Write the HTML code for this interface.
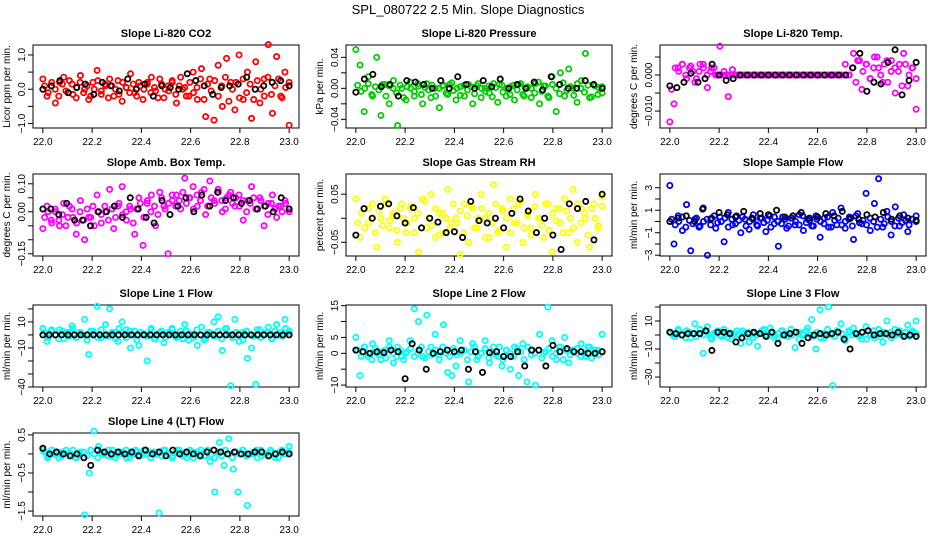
<!DOCTYPE html>
<html><head><meta charset="utf-8">
<style>
html,body{margin:0;padding:0;background:#fff;}
svg{display:block;font-family:"Liberation Sans",sans-serif;}
</style></head>
<body>
<svg id="chart" width="936" height="540" viewBox="0 0 936 540" xmlns="http://www.w3.org/2000/svg">
<text x="468" y="14" text-anchor="middle" font-size="13">SPL_080722  2.5 Min. Slope Diagnostics</text>
</svg>
<script>
const xTicks = [22.0, 22.2, 22.4, 22.6, 22.8, 23.0];
const xTickLabels = ["22.0","22.2","22.4","22.6","22.8","23.0"];
const titles = ["Slope Li-820 CO2","Slope Li-820 Pressure","Slope Li-820 Temp.","Slope Amb. Box Temp.","Slope Gas Stream RH","Slope Sample Flow","Slope Line 1 Flow","Slope Line 2 Flow","Slope Line 3 Flow","Slope Line 4 (LT) Flow"];
const yTitles = ["Licor ppm per min.","kPa per min.","degrees C per min.","degrees C per min.","percent per min.","ml/min per min.","ml/min per min.","ml/min per min.","ml/min per min.","ml/min per min."];
const colors = ["#ff0000","#00cc00","#ff00ff","#ff00ff","#ffff00","#0000ff","#00ffff","#00ffff","#00ffff","#00ffff"];
const yDomains = [[-1.13,1.29],[-0.0512,0.0559],[-0.0147,0.00833],[-0.158,0.135],[-0.0785,0.092],[-3.07,4.22],[-40,23],[-10.6,15.2],[-37.1,21.4],[-1.63,0.55]];
const yTicks = [[-1,-0.5,0,0.5,1],[-0.04,-0.02,0,0.02,0.04],[-0.01,-0.005,0,0.005],[-0.15,-0.1,-0.05,0,0.05,0.1],[-0.05,0,0.05],[-3,-2,-1,0,1,2,3],[-40,-30,-20,-10,0,10,20],[-10,-5,0,5,10,15],[-30,-20,-10,0,10,20],[-1.5,-1,-0.5,0,0.5]];
const yTickLabels = [["−1.0","","0.0","","1.0"],["−0.04","","0.00","","0.04"],["−0.010","","0.000",""],["−0.15","","","0.00","","0.10"],["−0.05","","0.05"],["−3","","−1","","1","","3"],["−40","","","−10","","10",""],["−10","","0","5","","15"],["−30","","−10","","10",""],["−1.5","","−0.5","","0.5"]];

const s1 = [0.3,-0.2,0.1,-0.4,0.2,0.35,-0.1,0.15,-0.25,0.4,0.0,-0.3,0.2,0.55,-0.15,0.1,0.3,-0.2,0.25,-0.35,0.05,0.45,-0.1,0.2,-0.3,0.15,0.35,-0.05,0.3,-0.25,0.1,0.2,-0.4,0.35,0.05,-0.2,0.5,-0.3,0.6,-0.8,0.3,-0.9,0.7,-0.5,0.9,0.2,-0.6,1.0,-0.3,0.5,-0.85,0.8,-0.4,0.3,1.3,-0.7,0.95,-0.2,0.5,-1.05];
const b1 = [0.1,-0.1,0.2,0.0,-0.2,0.15,-0.05,0.25,-0.15,0.05,0.2,-0.1,0.1,-0.2,0.0,0.25,-0.05,0.15,-0.25,0.1,0.0,-0.15,0.2,0.05,-0.1,0.15,-0.2,0.1,0.0,0.2,-0.1,0.05,-0.25,0.15,0.0,-0.05,0.25,-0.15,0.1,0.0,-0.2,0.2,-0.1,0.05,0.3,-0.3,0.15,-0.05,0.25,-0.2,0.1,0.35,-0.35,0.0,0.2,-0.25,0.3,-0.1,0.15,-0.3,0.25,0.0,-0.2,0.35,-0.15,0.1,0.3,-0.25,0.05,0.2];
const k1 = [0.0,0.1,0.25,-0.1,0.05,0.15,-0.15,0.2,0.1,-0.05,0.3,0.0,0.15,-0.2,0.1,0.05,0.0,0.45,0.25,0.1,-0.15,0.05,0.1,0.15,0.35,0.0,0.1,0.2,0.25,0.1];
const s2 = [0.05,0.03,-0.03,0.015,-0.01,0.04,-0.035,0.005,-0.02,0.01,-0.048,0.0,-0.015,0.008,-0.01,0.003,-0.02,0.006,-0.012,0.0,-0.025,0.004,-0.008,0.007,-0.015,0.002,-0.01,0.005,-0.02,0.003,-0.012,0.0,-0.006,0.006,-0.018,0.004,-0.01,0.002,-0.015,0.005,-0.008,0.0,-0.012,0.006,-0.02,0.003,-0.01,0.015,-0.03,0.02,-0.01,0.025,0.0,-0.018,0.01,0.045,-0.012,0.005,-0.008,0.002];
const b2 = [0.004,-0.004,0.0,0.006,-0.008,0.002,-0.002,0.005,-0.01,0.003,0.0,-0.006,0.004,-0.012,0.002,0.0,-0.004,0.006,-0.008,0.001,-0.002,0.004,-0.01,0.0,0.003,-0.006,0.005,-0.003,0.0,-0.009,0.004,-0.002,0.002,-0.007,0.006,0.0,-0.004,0.003,-0.011,0.001,0.005,-0.005,0.0,-0.008,0.004,-0.002,0.006,-0.01,0.002,0.0,-0.006,0.008,-0.004,0.003,-0.012,0.005,0.0,-0.007,0.007,-0.003,0.002,-0.009,0.006,0.0,-0.005,0.004,-0.011,0.003,0.001,-0.006];
const k2 = [-0.005,0.012,0.018,0.002,0.005,-0.01,0.01,0.008,0.005,0.0,0.01,0.0,0.015,0.005,0.0,0.01,0.002,0.012,0.0,0.005,0.0,0.008,-0.002,0.015,0.005,0.0,0.0,0.01,0.005,0.0];
const s3 = [-0.013,-0.008,0.002,0.003,-0.001,0.0025,-0.002,0.001,0.003,-0.0035,0.002,0.0,0.008,0.001,-0.006,0.0015,0.0,0.0,0.0,0.0,0.0,0.0,0.0,0.0,0.0,0.0,0.0,0.0,0.0,0.0,0.0,0.0,0.0,0.0,0.0,0.0,0.0,0.0,0.0,0.0,0.0,0.0,0.0,0.0,0.006,0.004,-0.004,0.003,-0.001,0.005,0.002,-0.002,0.004,0.001,-0.005,0.003,0.006,-0.003,0.002,-0.0095];
const b3 = [-0.004,0.002,0.001,0.003,0.0,0.002,0.001,-0.001,0.003,0.002,0.0,0.001,0.002,0.0,0.0,0.0,0.0,0.0,0.0,0.0,0.0,0.0,0.0,0.0,0.0,0.0,0.0,0.0,0.0,0.0,0.0,0.0,0.0,0.0,0.0,0.0,0.0,0.0,0.0,0.0,0.0,0.0,0.0,0.0,0.0,0.0,0.0,0.0,0.0,0.003,0.0,0.002,-0.002,0.004,0.001,0.003,-0.001,0.002,0.005,0.0,0.003,-0.002,0.004,0.002,0.001,-0.003,0.003,0.0,0.002,-0.001];
const k3 = [-0.003,-0.0035,-0.002,0.0005,-0.002,-0.001,0.003,0.0,-0.0015,-0.001,0.0,0.0,0.0,0.0,0.0,0.0,0.0,0.0,0.0,0.0,0.0,0.0,0.0,0.0,0.0,0.0,0.002,0.006,-0.0045,-0.002,-0.0025,0.0035,0.007,-0.0055,-0.0015,0.0035];
const s4 = [-0.06,0.02,-0.03,0.0,-0.05,0.03,-0.02,0.01,-0.08,0.04,-0.1,-0.02,0.02,0.06,-0.04,0.0,0.08,-0.06,0.02,0.09,-0.03,0.01,-0.08,0.05,-0.12,0.03,0.06,-0.05,0.07,0.02,-0.15,0.04,0.06,0.01,0.12,0.05,0.09,0.02,0.07,-0.01,0.11,0.04,0.08,0.0,0.05,0.07,0.02,0.06,-0.03,0.04,0.09,0.01,0.05,-0.05,0.03,0.06,-0.02,0.02,0.04,0.0];
const b4 = [-0.02,0.0,-0.04,0.01,-0.03,-0.01,-0.05,0.02,-0.02,-0.04,0.0,-0.03,0.01,-0.02,-0.05,0.0,-0.01,0.02,-0.03,0.01,-0.02,0.03,-0.01,0.0,0.02,-0.04,0.01,0.03,-0.02,0.04,0.0,0.02,-0.01,0.05,0.01,0.03,0.06,0.02,0.04,0.07,0.03,0.05,0.01,0.06,0.04,0.08,0.02,0.05,0.03,0.07,0.04,0.01,0.06,0.03,0.05,0.02,0.04,0.0,0.03,0.05,0.01,0.04,0.02,-0.01,0.03,0.01,0.02,0.0,0.03,0.01];
const k4 = [0.01,0.01,-0.01,0.03,-0.03,-0.03,-0.05,0.0,0.0,0.02,-0.02,0.05,0.01,-0.02,-0.04,0.04,-0.01,0.02,0.05,0.0,0.06,0.02,0.07,0.04,0.05,0.03,0.04,0.01,0.02,0.0,0.05,0.01];
const s5 = [0.04,-0.04,0.02,-0.01,0.03,-0.06,0.0,0.04,-0.02,0.01,-0.05,0.03,-0.03,0.02,0.0,-0.07,0.04,-0.02,0.05,-0.04,0.01,-0.03,0.06,-0.01,0.0,-0.075,0.03,-0.05,0.02,-0.02,0.05,0.0,-0.04,0.07,-0.03,0.02,-0.06,0.04,-0.01,0.03,-0.05,0.01,-0.02,0.05,0.0,-0.04,0.03,-0.07,0.02,-0.01,0.04,-0.03,0.06,-0.05,0.02,0.0,-0.06,0.03,-0.02,0.045];
const b5 = [-0.01,0.01,-0.02,0.02,0.0,-0.03,0.015,-0.015,0.03,-0.005,0.005,-0.025,0.02,0.0,-0.01,0.025,-0.03,0.01,-0.02,0.035,0.0,-0.015,0.02,-0.035,0.01,0.0,-0.02,0.03,-0.01,0.015,-0.03,0.005,0.025,-0.02,0.0,0.02,-0.04,0.01,-0.01,0.03,-0.025,0.015,0.0,-0.03,0.02,-0.01,0.035,-0.02,0.005,-0.035,0.025,0.0,-0.015,0.03,-0.025,0.01,-0.005,0.02,-0.03,0.015,0.0,-0.02,0.03,-0.01,0.01,-0.035,0.02,0.0,-0.015,0.025];
const k5 = [-0.035,0.02,0.0,0.025,0.03,0.005,-0.01,0.022,-0.02,0.0,-0.008,-0.03,-0.028,-0.04,0.035,-0.005,-0.01,0.0,-0.02,0.01,0.04,0.015,-0.03,0.0,-0.035,-0.065,0.03,0.02,0.035,-0.045,0.05];
const s6 = [3.2,-2.0,0.5,-0.8,1.5,-2.6,0.2,-0.5,1.2,-3.0,0.3,-0.6,0.4,-1.8,0.8,-0.3,0.5,-1.0,0.2,-0.7,0.6,-0.4,0.3,-0.9,0.5,-0.2,-2.2,0.4,-0.6,0.3,-0.3,0.6,-0.8,0.2,-0.4,0.5,-1.4,0.3,-0.5,0.8,-0.3,1.2,-0.6,0.4,-1.6,0.7,-0.2,2.5,-0.8,1.6,3.8,-0.5,0.9,-1.2,1.3,-0.4,0.6,-0.9,0.2,0.5];
const b6 = [0.2,-0.3,0.0,0.4,-0.5,0.1,-0.2,0.3,-0.4,0.0,0.2,-0.3,0.5,-0.1,0.0,0.3,-0.5,0.2,-0.2,0.1,0.4,-0.4,0.0,0.2,-0.3,0.3,-0.1,0.1,-0.5,0.4,0.0,-0.2,0.2,-0.4,0.3,0.0,-0.3,0.5,-0.1,0.1,-0.4,0.2,0.0,-0.2,0.4,-0.5,0.1,0.3,-0.3,0.0,0.2,-0.4,0.5,-0.1,0.1,-0.3,0.3,0.0,-0.5,0.2,-0.2,0.4,0.0,-0.4,0.3,-0.1,0.1,-0.3,0.2,0.0];
const k6 = [0.0,0.3,0.5,0.0,1.1,0.2,0.8,0.6,0.4,0.9,0.3,0.7,0.6,1.0,0.4,0.5,0.8,0.3,0.4,0.7,0.5,0.9,0.3,0.2,0.6,0.4,0.8,0.2,0.5,0.3,0.1];
const s7 = [5,-5,3,0,4,-3,2,7,-2,1,12,-15,3,22,-2,8,20,2,-5,10,4,-10,3,-8,0,-20,5,-3,2,-6,1,4,-2,3,8,-4,0,-8,6,-3,2,10,14,-12,5,-39,12,-5,2,-18,-10,-38,4,0,6,-3,8,2,12,3];
const b7 = [2,-2,4,0,-3,3,1,-1,5,-2,2,0,-4,3,1,-2,4,0,-1,2,-3,5,1,-2,3,0,-4,2,1,-1,4,-3,0,3,-2,2,5,-1,0,-3,3,1,-2,4,0,-4,2,1,-1,3,-3,5,0,-2,2,1,-4,3,0,-1,4,-2,1,2,-3,3,0,-1,5,2];
const k7 = [0,0,0,0,0,0,0,0,0,0,0,0,0,0,0,0,0,0,0,0,0,0,0,0,0,0,0,0,0,0,0,0,0,0,0,0,0,0,0,0];
const s8 = [5,-7,2,-1,3,0,-2,1,4,-3,2,-1,0,4,14,10,-1,12,2,6,-0.5,9,-6,-7,-4,4,1,-9,3,-2,0,4,-3,2,-1,-4,1,-5,2,-7,3,-9,1,-10,6,0,14.5,4,-2,2,5,-3,1,0,3,-1,2,0,1,6];
const b8 = [1,-1,2,0,-2,1.5,-0.5,0.5,-1.5,2,0,-1,1,-2,0.5,1.5,-1,0,2,-1.5,0.5,-0.5,1,-2,2,0,-1,1.5,-0.5,0,1,-2,0.5,2,-1,0,1.5,-1.5,0.5,-0.5,2,-2,1,0,-1,1.5,0.5,-2,2,-0.5,0,1,-1.5,0.5,1.5,-1,0,2,-2,1,-0.5,0.5,1.5,-1,0,2,-1.5,1,-0.5,0.5];
const k8 = [1,0.5,0,0.5,0.2,1,0.5,-8,3,1,-5,0,0.5,1,0.5,1,-5,0.5,-6,0.2,0.5,-1,-1,0.5,-4,1,1,-4,2.5,0.5,1.5,0.5,0.5,0,0,0.5];
const s9 = [2,-1,4,0,3,-2,8,1,-13,6,-3,2,0,4,-2,1,3,-6,2,-5,1,-8,3,0,5,-2,1,3,-1,4,-9,2,0,5,11,-10,18,-2,20,-36,3,8,-4,2,5,0,-3,6,1,-2,4,-5,10,2,0,3,-1,7,2,10];
const b9 = [1,-1,3,0,-2,2,1,-1,4,0,2,-2,1,3,-1,0,2,-3,1,0,3,-1,2,-2,0,1,4,-1,2,0,-2,3,1,-1,0,2,-3,1,3,0,-1,2,-2,1,4,0,-1,2,1,-2,3,0,1,-1,2,-3,0,3,1,-1,2,0,-2,4,1,0,2,-1,3,1];
const k9 = [2,1,0,1,1,1,3,-11,2,2,1,-5,-2,1,2,1,-1,2,-6,0,1,2,-6,-2,0,1,0,1,2,-3,-10,1,2,3,0,1,1,0,2,-1,0,-1];
const s10 = [0.1,-0.1,0.0,0.05,-0.05,0.1,0.0,-0.1,0.05,-1.6,-0.5,0.6,0.2,0.0,-0.05,0.1,0.0,0.05,-0.1,0.0,0.1,-0.05,0.0,0.05,0.0,-1.55,0.1,0.0,-0.05,0.1,0.0,-0.1,0.05,0.0,0.1,-0.05,-0.2,-1.0,0.3,-0.3,0.4,-0.4,-1.0,0.1,-1.35,0.0,0.1,-0.05,0.0,0.1,-0.1,0.05,0.0,0.2];
const b10 = [0.05,-0.05,0.1,0.0,-0.1,0.05,0.0,-0.05,0.1,-0.1,0.0,0.05,-0.05,0.1,0.0,-0.1,0.05,0.0,0.1,-0.05,-0.1,0.05,0.0,0.1,-0.1,0.0,0.05,-0.05,0.1,0.0,-0.1,0.05,0.0,-0.05,0.1,0.0,-0.1,0.05,0.1,-0.05,0.0,0.1,-0.1,0.05,0.0,-0.05,0.1,0.0,-0.1,0.05,-0.05,0.1,0.0,-0.1,0.05,0.0,0.1,-0.05,0.0,0.05,-0.1,0.1,0.0,-0.05,0.05,0.0,-0.1,0.1,0.0,0.05];
const k10 = [0.15,0.0,0.05,0.0,-0.05,0.0,-0.1,-0.3,0.1,0.05,0.0,0.05,0.0,0.05,-0.05,0.1,0.0,0.05,-0.05,0.1,0.0,0.05,0.0,-0.05,0.05,0.1,0.05,0.0,0.05,0.0,0.0,0.05,0.05,-0.05,0.0,0.05,0.0];
const colorSeries = [s1,s2,s3,s4,s5,s6,s7,s8,s9,s10];
const bandSeries = [b1,b2,b3,b4,b5,b6,b7,b8,b9,b10];
const blackSeries = [k1,k2,k3,k4,k5,k6,k7,k8,k9,k10];
const tStart = 22.0, tEnd = 23.0;

const NS = "http://www.w3.org/2000/svg";
const svg = document.getElementById("chart");
const colX = [[33,299],[346,612],[660,926]];
const rowY = [[45,128],[174,256],[305,387],[433,516]];
function mk(tag, attrs, parent){const e=document.createElementNS(NS,tag);for(const k in attrs)e.setAttribute(k,attrs[k]);(parent||svg).appendChild(e);return e;}

for(let p=0;p<10;p++){
  const c=p%3, r=Math.floor(p/3);
  const [L,R]=colX[c], [T,B]=rowY[r];
  const g=mk("g",{});
  
  
  const xs=v=>L+(v-21.96)/(1.08)*(R-L);
  const [ymin,ymax]=yDomains[p];
  const ys=v=>B-(v-ymin)/(ymax-ymin)*(B-T);
  const t=mk("text",{x:(L+R)/2,y:T-8,"text-anchor":"middle","font-size":"11","font-weight":"bold"},g);
  t.textContent=titles[p];
  
  
  const box=mk("rect",{x:L,y:T,width:R-L,height:B-T,fill:"none",stroke:"#000","stroke-width":"1"},g);
  
  
  xTicks.forEach((v,i)=>{
    mk("line",{x1:xs(v),x2:xs(v),y1:B,y2:B+5,stroke:"#000"},g);
    const tl=mk("text",{x:xs(v),y:B+17,"text-anchor":"middle","font-size":"10"},g);
    tl.textContent=xTickLabels[i];
    
    
  });
  yTicks[p].forEach((v,i)=>{
    mk("line",{x1:L-5,x2:L,y1:ys(v),y2:ys(v),stroke:"#000"},g);
    if(yTickLabels[p][i]){
      const yl=mk("text",{x:0,y:0,"text-anchor":"middle","font-size":"10",transform:`translate(${L-8},${ys(v)}) rotate(-90)`},g);
      yl.textContent=yTickLabels[p][i];
      
      
    }
  });
  const yt=mk("text",{x:0,y:0,"text-anchor":"middle","font-size":"10",transform:`translate(${L-23},${(T+B)/2}) rotate(-90)`},g);
  yt.textContent=yTitles[p];
  
  
  const drawSeries=(arr,col,name,off)=>{
    const sg=mk("g",{},g);
    
    
    arr.forEach((v,i)=>{
      const tx=tStart+(tEnd-tStart)*(i+off)/(arr.length-1+off);
      const pt=mk("circle",{cx:xs(tx),cy:ys(v),r:"2.6",fill:"none",stroke:col,"stroke-width":"1.8"},sg);
      
      
    });
  };
  drawSeries(colorSeries[p],colors[p],'slope-series',0);
  drawSeries(bandSeries[p],colors[p],'slope-series-band',0.5);
  drawSeries(blackSeries[p],"#000",'mean-slope-series',0);
}
</script>
</body></html>
